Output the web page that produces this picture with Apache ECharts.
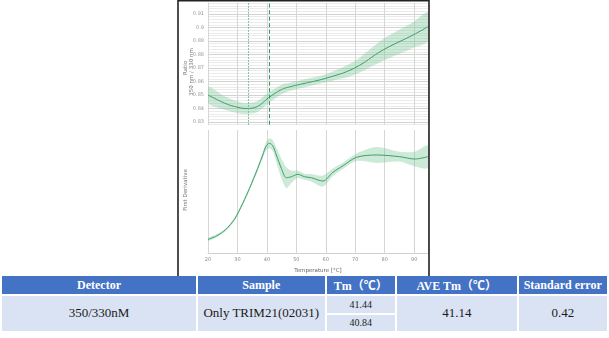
<!DOCTYPE html>
<html><head><meta charset="utf-8">
<script src="https://cdn.jsdelivr.net/npm/echarts@6/dist/echarts.min.js"></script>
<style>
html,body{margin:0;padding:0;background:#fff;}
#chart{position:absolute;left:0;top:0;width:609px;height:338px;}
.cell{position:absolute;display:flex;align-items:center;justify-content:center;font-family:"Liberation Serif","Times New Roman","Noto Sans CJK SC",serif;color:#1a1a1a;box-sizing:border-box;white-space:nowrap;}
.hd{background:#4472C4;color:#fff;font-weight:bold;font-size:12px;}
.bd{background:#DAE3F3;font-size:13px;}
#tbl{position:absolute;left:0;top:276px;width:609px;height:62px;background:#fff;}
</style></head>
<body>
<div id="chart"></div>
<div id="tbl"></div>
<script>
// ---- data ----
const ratioTemps  = [20, 25.6, 29, 33, 36.8, 40.6, 44.9, 47.7, 51.5, 60, 69.6, 79.4, 89.6, 94.7];
const ratioValues = [0.850, 0.844, 0.8415, 0.840, 0.8415, 0.848, 0.854, 0.856, 0.858, 0.8624, 0.8698, 0.8833, 0.8944, 0.9006];
const ratioBand   = [0.006, 0.005, 0.0045, 0.004, 0.004, 0.004, 0.0035, 0.003, 0.003, 0.003, 0.005, 0.008, 0.0095, 0.0105];

const derivTemps  = [20, 23, 26, 29, 31.8, 34.1, 36.9, 38.6, 39.8, 40.9, 42.0, 43.2, 44.9, 46.6, 48.3, 50.5, 52.8, 55.1, 59.0, 62.4, 65.9, 70.4, 77.2, 85.1, 90.2, 94.7];
const derivValues = [11, 14, 19, 27.5, 40.4, 52.6, 68.9, 79.7, 87.2, 89.2, 87.2, 79.7, 68.9, 61.2, 62.0, 64.0, 62.0, 61.2, 58.5, 65.6, 71.0, 77.8, 79.7, 78.3, 76.4, 78.3];
const derivBand   = [1.2, 1.2, 1.2, 1.2, 1.5, 1.5, 2, 2.5, 3.5, 4, 4.5, 6, 8, 8.5, 5, 3, 2.5, 3, 4.5, 3, 2.5, 3, 6.5, 4, 6, 9];

const tmMarkers = [33.8, 40.7];

const tableHeaders = ['Detector', 'Sample', 'Tm（℃）', 'AVE Tm（℃）', 'Standard error'];
const tableRow = { detector: '350/330nM', sample: 'Only TRIM21(02031)', tm: ['41.44', '40.84'], ave: '41.14', se: '0.42' };

// ---- build ----
const lineColor = '#3f9d6c';
const bandColor = 'rgba(120,200,150,0.38)';
function pairs(t, v) { return t.map((x, i) => [x, v[i]]); }
function bandSeries(axisIdx, temps, vals, band) {
  return {
    type: 'custom', xAxisIndex: axisIdx, yAxisIndex: axisIdx, silent: true, clip: true,
    data: [[temps[0], vals[0]]],
    renderItem: (params, api) => {
      const up = temps.map((t, i) => api.coord([t, vals[i] + band[i]]));
      const lo = temps.map((t, i) => api.coord([t, vals[i] - band[i]])).reverse();
      return { type: 'polygon', shape: { points: up.concat(lo), smooth: 0.3 }, style: { fill: bandColor } };
    }
  };
}
function markerSeries(t, dash, color) {
  return { type: 'line', xAxisIndex: 0, yAxisIndex: 0, symbol: 'none', silent: true, data: [],
    markLine: { silent: true, symbol: 'none', label: { show: false },
      lineStyle: { type: dash, color: color, width: 1, opacity: 1 },
      emphasis: { disabled: true },
      data: [{ xAxis: t }] } };
}

const chart = echarts.init(document.getElementById('chart'), null, { renderer: 'canvas' });
const minorC = '#ebebeb', majorC = '#d2d2d2';
const option = {
  animation: false,
  grid: [
    { left: 208, top: 3.2, width: 220, height: 121.5 },
    { left: 208, top: 130, width: 220, height: 123 }
  ],
  xAxis: [
    { gridIndex: 0, type: 'value', min: 20, max: 94.7, interval: 10,
      axisLabel: { show: false }, axisTick: { show: false }, axisLine: { show: false },
      splitLine: { show: true, lineStyle: { color: '#d6d6d6', width: 1 } } },
    { gridIndex: 1, type: 'value', min: 20, max: 94.7, interval: 10,
      axisLabel: { fontSize: 5, color: '#888', margin: 4, showMaxLabel: false, fontFamily: 'DejaVu Sans' },
      axisTick: { show: false }, axisLine: { show: true, lineStyle: { color: '#d0d0d0' } },
      splitLine: { show: true, lineStyle: { color: '#d6d6d6', width: 1 } },
      name: 'Temperature [°C]', nameLocation: 'middle', nameGap: 15,
      nameTextStyle: { fontSize: 5.5, color: '#666', fontFamily: 'DejaVu Sans' } }
  ],
  yAxis: [
    { gridIndex: 0, type: 'value', min: 0.828, max: 0.918, interval: 0.002,
      axisLabel: { interval: 0, fontSize: 5, color: '#999', margin: 4, fontFamily: 'DejaVu Sans',
        formatter: v => { const k = Math.round(v * 1000); return k % 10 === 0 ? String(k / 1000) : ''; } },
      axisTick: { show: false }, axisLine: { show: true, lineStyle: { color: '#d6d6d6' } },
      splitLine: { show: true, lineStyle: { color: [minorC, majorC, minorC, minorC, minorC], width: 1 } } },
    { gridIndex: 1, type: 'value', min: 0, max: 100,
      axisLabel: { show: false }, axisTick: { show: false }, axisLine: { show: false },
      splitLine: { show: false } }
  ],
  series: [
    bandSeries(0, ratioTemps, ratioValues, ratioBand),
    { type: 'line', xAxisIndex: 0, yAxisIndex: 0, smooth: 0.4, symbol: 'none',
      lineStyle: { color: lineColor, width: 1 }, data: pairs(ratioTemps, ratioValues) },
    markerSeries(tmMarkers[0], [1.5, 1.5], '#5cb886'),
    markerSeries(tmMarkers[1], [4, 2.5], '#2e9a63'),
    bandSeries(1, derivTemps, derivValues, derivBand),
    { type: 'line', xAxisIndex: 1, yAxisIndex: 1, smooth: 0.3, symbol: 'none',
      lineStyle: { color: lineColor, width: 1 }, data: pairs(derivTemps, derivValues) }
  ],
  graphic: [
    { type: 'rect', shape: { x: 178, y: 0.75, width: 251, height: 276 }, style: { fill: 'none', stroke: '#222', lineWidth: 1.6 }, z: 100 },
    { type: 'text', x: 186, y: 68, rotation: Math.PI / 2,
      style: { text: 'Ratio', fontSize: 5.5, fill: '#777', align: 'center', verticalAlign: 'middle', fontFamily: 'DejaVu Sans' } },
    { type: 'text', x: 191.5, y: 72, rotation: Math.PI / 2,
      style: { text: '350 nm / 330 nm', fontSize: 5.5, fill: '#777', align: 'center', verticalAlign: 'middle', fontFamily: 'DejaVu Sans' } },
    { type: 'text', x: 186, y: 190, rotation: Math.PI / 2,
      style: { text: 'First Derivative', fontSize: 5.5, fill: '#777', align: 'center', verticalAlign: 'middle', fontFamily: 'DejaVu Sans' } }
  ]
};
chart.setOption(option);

// ---- table ----
const cols = [[2, 196], [197.5, 325], [326.5, 395], [396.5, 517], [518.5, 607]];
const tbl = document.getElementById('tbl');
function cell(x0, x1, y0, y1, cls, txt, extra) {
  const d = document.createElement('div');
  d.className = 'cell ' + cls;
  d.style.left = x0 + 'px'; d.style.width = (x1 - x0) + 'px';
  d.style.top = y0 + 'px'; d.style.height = (y1 - y0) + 'px';
  if (extra) Object.assign(d.style, extra);
  d.textContent = txt;
  tbl.appendChild(d);
}
tableHeaders.forEach((h, i) => cell(cols[i][0], cols[i][1], 0, 18, 'hd', h));
cell(cols[0][0], cols[0][1], 19.5, 55, 'bd', tableRow.detector);
cell(cols[1][0], cols[1][1], 19.5, 55, 'bd', tableRow.sample);
cell(cols[2][0], cols[2][1], 19.5, 37, 'bd', tableRow.tm[0], { fontSize: '10px' });
cell(cols[2][0], cols[2][1], 38.5, 55, 'bd', tableRow.tm[1], { fontSize: '10px' });
cell(cols[3][0], cols[3][1], 19.5, 55, 'bd', tableRow.ave);
cell(cols[4][0], cols[4][1], 19.5, 55, 'bd', tableRow.se);
</script>
</body></html>
